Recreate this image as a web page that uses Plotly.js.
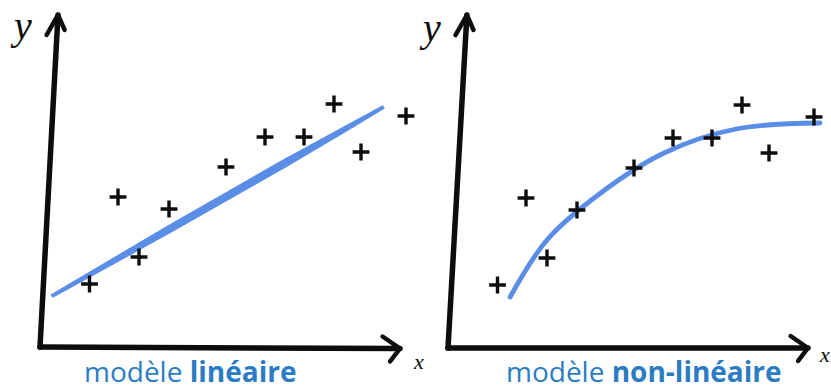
<!DOCTYPE html>
<html>
<head>
<meta charset="utf-8">
<script src="https://cdn.plot.ly/plotly-3.0.1.min.js"></script>
<style>
  html, body { margin: 0; padding: 0; background: #fff; }
  #chart { width: 831px; height: 390px; }
  .shapelayer path, .scatterlayer .js-line { stroke-linecap: round; stroke-linejoin: round; }
</style>
</head>
<body>
<div id="chart"></div>
<script>
// Observations (same scatter in both panels)
const obsX = [1.65, 2.6, 3.3, 4.3, 6.2, 7.5, 8.8, 9.8, 10.7, 12.2];
const obsY = [2.1, 5.0, 3.0, 4.6, 6.0, 7.0, 7.0, 8.1, 6.5, 7.7];

// Linear model: straight fitted line (start and end)
const linX = [0.4, 11.45];
const linY = [1.7, 8.0];

// Non-linear model: saturating fitted curve
const curveX = [2.07, 3.3, 5.0, 7.2, 9.6, 12.4];
const curveY = [1.7, 3.6, 5.1, 6.5, 7.3, 7.5];

// Caption text: regular part + bold part
const captionLeft = ['modèle ', 'linéaire'];
const captionRight = ['modèle ', 'non-linéaire'];
const axisLabelX = 'x';
const axisLabelY = 'y';

// ---- geometry / styling ----
const W = 831, H = 390;
const PX = 30;                      // pixels per data unit on both axes
const origins = [[40, 347], [448, 348]];   // pixel position of each hand-drawn axis corner
const BLUE = '#5a8de6';
const INK = '#0d0d0d';
const CAPTION = '#2b7cc2';

function rangesFor(o) {
  return {
    x: [-o[0] / PX, (W - o[0]) / PX],
    y: [-(H - o[1]) / PX, o[1] / PX]
  };
}
const r1 = rangesFor(origins[0]);
const r2 = rangesFor(origins[1]);

// brush-like band around a straight segment: [fraction along, width px]
const brushProfile = [[0, 3], [0.15, 5], [0.35, 7], [0.7, 7.5], [0.9, 5], [1, 3]];
function taperedBand(xs, ys, prof) {
  const x0 = xs[0], y0 = ys[0], x1 = xs[1], y1 = ys[1];
  const dx = x1 - x0, dy = y1 - y0, L = Math.hypot(dx, dy);
  const nx = -dy / L, ny = dx / L;
  const up = prof.map(([t, w]) => [x0 + dx * t + nx * w / 2 / PX, y0 + dy * t + ny * w / 2 / PX]);
  const dn = prof.map(([t, w]) => [x0 + dx * t - nx * w / 2 / PX, y0 + dy * t - ny * w / 2 / PX]).reverse();
  const poly = up.concat(dn);
  poly.push(up[0]);
  return { x: poly.map(p => p[0]), y: poly.map(p => p[1]) };
}
const band = taperedBand(linX, linY, brushProfile);

const markerStyle = {
  symbol: 'cross-thin', size: 12, color: INK,
  line: { color: INK, width: 3.4 }
};

const traces = [
  { type: 'scatter', mode: 'lines', x: band.x, y: band.y, xaxis: 'x', yaxis: 'y',
    fill: 'toself', fillcolor: BLUE, line: { color: BLUE, width: 1 }, hoverinfo: 'skip' },
  { type: 'scatter', mode: 'markers', x: obsX, y: obsY, xaxis: 'x', yaxis: 'y', marker: markerStyle },
  { type: 'scatter', mode: 'lines', x: curveX, y: curveY, xaxis: 'x2', yaxis: 'y2',
    line: { color: BLUE, width: 4.8, shape: 'spline', smoothing: 1 } },
  { type: 'scatter', mode: 'markers', x: obsX, y: obsY, xaxis: 'x2', yaxis: 'y2', marker: markerStyle }
];

// hand-drawn style axes with open arrowheads
function sketchAxes(xref, yref, yTip, xTip) {
  const line = (d, w) => ({ type: 'path', xref, yref, path: d, line: { color: INK, width: w } });
  return [
    line(`M 0,0 L ${yTip[0]},${yTip[1]}`, 5.5),
    line(`M ${yTip[0] - 0.38},${yTip[1] - 0.67} L ${yTip[0]},${yTip[1]} L ${yTip[0] + 0.22},${yTip[1] - 0.5}`, 4.5),
    line(`M 0,0 L ${xTip[0]},${xTip[1]}`, 5.5),
    line(`M ${xTip[0] - 0.58},${xTip[1] + 0.4} L ${xTip[0]},${xTip[1]} L ${xTip[0] - 0.33},${xTip[1] - 0.43}`, 4.5)
  ];
}
const shapes = sketchAxes('x', 'y', [0.6, 11.07], [12.0, -0.05])
  .concat(sketchAxes('x2', 'y2', [0.63, 11.1], [12.0, 0]));

const px = (x) => x / W;
const py = (y) => 1 - y / H;

function caption(parts, cx) {
  return {
    xref: 'paper', yref: 'paper', x: px(cx), y: -0.006, xanchor: 'center', yanchor: 'bottom',
    showarrow: false, text: parts[0] + '<b>' + parts[1] + '</b>',
    font: { family: 'Open Sans', size: 28, color: CAPTION }
  };
}
function letter(t, cx, cy, size) {
  return {
    xref: 'paper', yref: 'paper', x: px(cx), y: py(cy), xanchor: 'center', yanchor: 'middle',
    showarrow: false, text: t,
    font: { family: 'Liberation Serif', style: 'italic', size, color: INK }
  };
}

const layout = {
  width: W, height: H,
  margin: { l: 0, r: 0, t: 0, b: 0 },
  paper_bgcolor: '#ffffff', plot_bgcolor: 'rgba(0,0,0,0)',
  showlegend: false,
  xaxis: { domain: [0, 1], range: r1.x, visible: false, fixedrange: true },
  yaxis: { domain: [0, 1], range: r1.y, visible: false, fixedrange: true },
  xaxis2: { domain: [0, 1], range: r2.x, visible: false, anchor: 'y2', fixedrange: true },
  yaxis2: { domain: [0, 1], range: r2.y, visible: false, anchor: 'x2', fixedrange: true },
  shapes,
  annotations: [
    caption(captionLeft, 190),
    caption(captionRight, 644),
    letter(axisLabelY, 21, 26, 40),
    letter(axisLabelY, 430, 28, 40),
    letter(axisLabelX, 418, 361, 22),
    letter(axisLabelX, 824, 354, 22)
  ]
};

Plotly.newPlot('chart', traces, layout, { displayModeBar: false, staticPlot: true });
</script>
</body>
</html>
